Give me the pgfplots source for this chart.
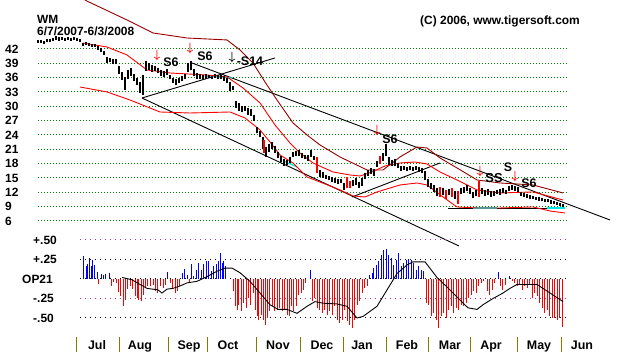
\documentclass[border=0pt]{standalone}
\usepackage{fontspec}
\setmainfont{Liberation Sans}
\usepackage{pgfplots}
\pgfplotsset{compat=1.18}
\usepackage{pgfplotstable}
\usepackage{amsmath}

\definecolor{gridgreen}{RGB}{0,128,0}
\definecolor{maroonline}{RGB}{150,0,0}
\definecolor{olivesep}{RGB}{128,128,0}
\definecolor{pinkgrid}{RGB}{170,60,140}
\definecolor{brightred}{RGB}{255,0,0}
\definecolor{barblue}{RGB}{0,0,255}
\definecolor{cyanline}{RGB}{0,230,230}

\newcommand\lab{\fontsize{12}{12}\selectfont\bfseries}
\newcommand\sig{\fontsize{12.5}{12}\selectfont\bfseries}
\newcommand\arr{\fontsize{13}{13}\selectfont$\boldsymbol{\downarrow}$}

% price bars: x (pixel column), low, high
\pgfplotstableread{
x lo hi
38 43.2 43.8
41 43.3 43.9
44 43.0 43.6
47 43.4 44.1
50 43.5 44.0
53 43.6 44.3
56 43.8 44.6
59 43.7 44.4
62 43.9 44.5
65 43.6 44.2
68 43.8 44.4
71 43.7 44.3
74 43.8 44.5
77 43.6 44.2
80 43.4 44.0
83 42.6 43.3
86 42.8 43.4
89 42.7 43.2
92 42.4 43.1
95 42.5 43.0
98 41.8 42.6
101 41.3 42.2
104 40.8 41.6
107 39.0 40.2
110 39.2 40.1
113 38.8 39.8
116 38.9 39.9
119 36.8 38.5
122 35.5 37.2
125 33.4 36.2
128 35.8 37.6
131 36.3 38.0
134 35.2 36.8
137 34.5 36.0
140 32.8 35.0
143 32.3 36.5
146 37.4 39.4
149 37.6 39.0
152 37.2 38.6
155 37.4 38.5
158 36.9 38.0
161 36.4 37.5
164 36.2 37.3
167 36.5 37.7
170 35.6 36.6
173 34.8 36.0
176 34.5 35.6
179 34.9 35.9
182 35.3 36.3
185 35.8 36.8
188 37.2 39.0
191 37.5 39.4
194 36.4 37.8
197 35.7 37.0
200 35.8 36.8
203 35.5 36.5
206 35.7 36.7
209 35.9 36.6
212 35.6 36.4
215 35.9 36.8
218 35.8 36.6
221 35.6 36.5
224 35.3 36.3
227 34.8 35.9
230 33.2 35.0
233 33.4 34.2
236 29.6 31.2
239 29.0 30.6
242 28.8 30.1
245 29.0 30.0
248 28.2 29.6
251 28.0 29.5
254 27.0 28.2
257 24.3 25.6
260 23.5 24.8
263 21.0 23.5
266 19.4 21.5
269 20.5 22.2
272 21.0 22.5
275 20.2 21.6
278 19.2 20.4
281 18.3 19.6
284 17.6 18.9
287 17.8 18.8
290 18.2 19.3
293 19.3 20.5
296 19.5 20.6
299 19.6 20.9
302 19.2 20.3
305 18.9 19.8
308 18.6 19.7
311 19.4 20.9
314 18.7 19.6
317 16.2 17.5
320 15.3 16.6
323 15.0 16.2
326 14.8 15.7
329 14.5 15.4
332 14.2 15.1
335 14.0 14.9
338 13.7 14.7
341 13.9 14.8
344 12.5 14.0
347 13.9 15.2
350 12.9 14.3
353 13.3 14.6
356 13.6 14.9
359 13.0 14.2
362 13.4 14.9
365 14.8 16.0
368 15.4 16.6
371 15.8 17.1
374 15.5 16.9
377 17.2 18.5
380 18.0 19.4
383 18.6 20.3
386 19.5 22.0
389 17.8 19.3
392 17.4 18.7
395 17.6 18.9
398 17.0 18.2
401 16.5 17.6
404 16.7 17.5
407 16.4 17.3
410 16.6 17.4
413 16.5 17.3
416 16.7 17.6
419 16.3 17.2
422 16.0 17.0
425 14.5 16.4
428 13.2 14.8
431 12.6 13.9
434 12.1 13.5
437 11.3 12.8
440 11.0 13.2
443 11.5 12.8
446 10.5 12.5
449 11.4 12.6
452 11.8 13.0
455 10.7 12.3
458 9.6 12.2
461 11.6 13.0
464 11.9 13.2
467 12.2 13.5
470 11.6 12.8
473 10.8 12.1
476 11.2 12.5
479 11.0 14.4
482 11.6 12.8
485 11.3 12.4
488 11.5 12.6
491 11.1 12.2
494 11.3 12.3
497 11.6 12.5
500 11.4 12.6
503 11.8 12.8
506 11.6 12.5
509 12.2 13.3
512 12.4 13.6
515 12.2 13.4
518 12.0 13.1
521 11.2 12.1
524 11.0 11.9
527 10.8 11.7
530 10.7 11.5
533 10.5 11.3
536 10.3 11.1
539 10.2 11.0
542 10.1 10.8
545 10.0 10.7
548 9.9 10.6
551 9.6 10.4
554 9.5 10.2
557 9.3 10.0
560 9.1 9.8
563 9.0 9.6
}\bars

\pgfplotstableread{
x lo hi
264 20.2 22.9
317 16.0 19.4
347 12.8 15.2
350 12.9 14.3
380 18.0 19.6
440 11.0 13.2
446 10.5 12.5
452 11.0 13.0
458 9.6 12.2
479 11.0 14.4
}\redbars

\pgfplotstableread{
x v
83 0.299
86 0.162
87 0.192
89 0.269
91 0.162
92 0.239
94 0.184
97 0.085
101 0.064
103 0.047
105 0.064
109 0.077
167 0.090
182 0.077
184 0.128
187 0.056
191 0.197
193 0.043
196 0.111
198 0.205
201 0.111
203 0.197
206 0.226
208 0.226
211 0.098
213 0.162
216 0.192
218 0.226
220 0.333
222 0.205
223 0.226
225 0.162
310 0.120
369 0.056
372 0.077
373 0.141
376 0.184
378 0.226
381 0.312
383 0.376
386 0.385
388 0.312
391 0.269
393 0.184
396 0.248
398 0.333
401 0.162
403 0.205
406 0.248
408 0.256
411 0.248
413 0.205
416 0.120
418 0.162
421 0.120
423 0.098
498 0.085
509 0.034
}\bluebars

\pgfplotstableread{
x v
98 -0.064
111 -0.085
113 -0.043
116 -0.051
118 -0.167
120 -0.222
123 -0.342
125 -0.265
127 -0.128
130 -0.085
132 -0.128
135 -0.214
137 -0.244
138 -0.265
141 -0.278
143 -0.201
145 -0.115
147 -0.094
150 -0.085
153 -0.073
155 -0.158
157 -0.179
160 -0.094
163 -0.115
165 -0.073
170 -0.051
172 -0.115
175 -0.179
177 -0.158
179 -0.094
189 -0.051
233 -0.158
235 -0.350
237 -0.393
238 -0.329
241 -0.415
243 -0.308
246 -0.372
248 -0.244
250 -0.329
253 -0.179
255 -0.393
257 -0.479
258 -0.521
261 -0.457
263 -0.521
265 -0.585
267 -0.500
269 -0.415
272 -0.350
274 -0.415
277 -0.393
279 -0.372
282 -0.415
284 -0.393
287 -0.457
289 -0.479
291 -0.350
293 -0.415
296 -0.350
298 -0.201
301 -0.179
303 -0.137
305 -0.051
312 -0.286
314 -0.244
317 -0.372
319 -0.393
322 -0.436
324 -0.393
327 -0.457
329 -0.415
332 -0.457
334 -0.350
337 -0.521
339 -0.564
342 -0.521
344 -0.393
347 -0.543
349 -0.585
352 -0.628
354 -0.521
357 -0.329
359 -0.286
362 -0.179
364 -0.115
367 -0.094
426 -0.308
428 -0.329
431 -0.479
433 -0.436
436 -0.521
438 -0.628
441 -0.479
443 -0.436
446 -0.500
448 -0.393
451 -0.350
453 -0.436
456 -0.372
458 -0.393
461 -0.329
463 -0.350
466 -0.308
468 -0.244
471 -0.201
473 -0.158
476 -0.179
478 -0.094
481 -0.051
483 -0.030
487 -0.158
489 -0.201
492 -0.137
494 -0.051
500 -0.094
502 -0.137
505 -0.073
512 -0.030
514 -0.051
517 -0.094
519 -0.073
522 -0.137
524 -0.094
527 -0.115
529 -0.073
532 -0.244
534 -0.179
537 -0.222
539 -0.308
542 -0.372
544 -0.436
547 -0.393
549 -0.479
552 -0.500
554 -0.500
557 -0.521
559 -0.500
562 -0.620
}\redhist

\begin{document}
\begin{tikzpicture}
%================ PRICE PANEL ================
\begin{axis}[at={(0,0)}, anchor=south west, scale only axis,
  width=618bp, height=352bp, xmin=0, xmax=618, ymin=-21.41, ymax=52.23,
  axis lines=none, xtick=\empty, ytick=\empty, clip=false]
% grid lines
\pgfplotsinvokeforeach{6,9,12,15,18,21,24,27,30,33,36,39,42}{
  \addplot[gridgreen, line width=1bp, dash pattern=on 1bp off 2bp] coordinates {(38,#1) (567,#1)};
  \node[anchor=west, inner sep=0pt] at (axis cs:5,#1) {\lab #1};
}
% trend lines
\addplot[black, line width=0.9bp] coordinates {(192,39.05) (610,6.21)};
\addplot[black, line width=0.9bp] coordinates {(142,31.73) (459,0.77)};
\addplot[black, line width=0.9bp] coordinates {(142,31.73) (275,40.10)};
\addplot[black, line width=0.9bp] coordinates {(352,11.02) (440,18.13)};
\addplot[black, line width=0.9bp] coordinates {(448,8.72) (565,8.72)};
\addplot[cyanline, line width=1.2bp] coordinates {(473,8.72) (497,8.72)};
\addplot[cyanline, line width=1.2bp] coordinates {(547,8.72) (565,8.72)};
\addplot[cyanline, line width=1.2bp] coordinates {(283,18.6) (297,17.3)};
\addplot[cyanline, line width=1.2bp] coordinates {(205,36.3) (232,35.9)};
% maroon outer band
\addplot[maroonline, line width=0.9bp] coordinates {
(85,52.2) (127,48.05) (153,45.33) (187,44.28) (227,43.87) (240,41.77) (253,39.05)
(265,35.08) (277,31.31) (293,26.50) (307,23.99) (320,21.90) (340,19.39) (367,16.67)
(383,16.67) (400,19.39) (417,21.48) (427,21.27) (440,19.18) (457,17.09) (477,14.58)
(500,13.95) (533,13.53) (563,11.86)};
% bright red upper band
\addplot[brightred, line width=0.9bp] coordinates {
(83,43.24) (107,42.40) (127,40.73) (147,37.59) (170,36.96) (207,36.54) (227,36.13)
(243,33.83) (260,30.69) (275,26.08) (290,22.32) (300,20.23) (313,18.13) (333,16.25)
(350,15.62) (360,15.41) (372,16.25) (385,17.51) (400,18.13) (415,18.34) (427,17.92)
(440,16.25) (457,14.58) (477,12.49) (500,11.86) (533,12.07) (563,10.39)};
% bright red lower band
\addplot[brightred, line width=0.9bp] coordinates {
(80,34.03) (107,32.99) (130,31.31) (160,28.80) (190,28.59) (230,28.80) (245,27.55)
(260,25.04) (270,22.53) (280,19.81) (293,18.13) (307,15.21) (320,14.16) (340,12.49)
(353,11.23) (365,11.02) (377,12.07) (400,13.53) (417,13.95) (427,13.53) (443,11.02)
(457,8.93) (477,8.72) (500,8.72) (533,8.93) (550,8.09) (565,7.67)};
% price bars
\addplot[draw=none, mark=none, forget plot,
  error bars/.cd, y dir=plus, y explicit, error mark=none,
  error bar style={draw=black, solid, line width=1.1bp}]
  table[x=x, y=lo, y error expr=\thisrow{hi}-\thisrow{lo}] {\bars};
\addplot[draw=none, mark=none, forget plot,
  error bars/.cd, y dir=plus, y explicit, error mark=none,
  error bar style={draw=brightred, solid, line width=1.1bp}]
  table[x=x, y=lo, y error expr=\thisrow{hi}-\thisrow{lo}] {\redbars};
% titles
\node[anchor=base west, inner sep=0pt] at (axis cs:37,47.25) {\fontsize{12}{12}\selectfont\bfseries WM};
\node[anchor=base west, inner sep=0pt] at (axis cs:37,44.75) {\lab 6/7/2007-6/3/2008};
\node[anchor=base west, inner sep=0pt] at (axis cs:420,47.0) {\fontsize{12}{12}\selectfont\bfseries (C) 2006, www.tigersoft.com};
% signals
\node[text=brightred, inner sep=0pt] at (axis cs:157,40.7) {\arr};
\node[inner sep=0pt] at (axis cs:171,39.26) {\sig S6};
\node[text=brightred, inner sep=0pt] at (axis cs:190,41.98) {\arr};
\node[inner sep=0pt] at (axis cs:205,40.52) {\sig S6};
\node[inner sep=0pt] at (axis cs:232,40.1) {\arr};
\node[inner sep=0pt] at (axis cs:250,39.47) {\sig -S14};
\node[text=brightred, inner sep=0pt] at (axis cs:377,24.83) {\arr};
\node[inner sep=0pt] at (axis cs:390,23.15) {\sig S6};
\node[text=brightred, inner sep=0pt] at (axis cs:480,16.25) {\arr};
\node[inner sep=0pt] at (axis cs:494,15.0) {\fontsize{13}{12}\selectfont\bfseries SS};
\node[inner sep=0pt] at (axis cs:508,17.3) {\sig S};
\node[text=brightred, inner sep=0pt] at (axis cs:515,15.4) {\arr};
\node[inner sep=0pt] at (axis cs:529,13.95) {\sig S6};
\end{axis}
%================ OP21 PANEL ================
\begin{axis}[at={(0,0)}, anchor=south west, scale only axis,
  width=618bp, height=352bp, xmin=0, xmax=618, ymin=-0.936, ymax=3.577,
  axis lines=none, xtick=\empty, ytick=\empty, clip=false]
\addplot[pinkgrid, line width=1bp, dash pattern=on 1bp off 4bp] coordinates {(80,0.5) (567,0.5)};
\addplot[black, line width=1bp, dash pattern=on 1bp off 4bp] coordinates {(80,0.25) (567,0.25)};
\addplot[black, line width=1bp, dash pattern=on 1bp off 4bp] coordinates {(80,0) (567,0)};
\addplot[pinkgrid, line width=1bp, dash pattern=on 1bp off 4bp] coordinates {(80,-0.25) (567,-0.25)};
\addplot[black, line width=1bp, dash pattern=on 1bp off 4bp] coordinates {(80,-0.5) (567,-0.5)};
\addplot[ycomb, barblue, line width=0.9bp, mark=none] table[x=x, y=v] {\bluebars};
\addplot[ycomb, brightred, line width=0.9bp, mark=none] table[x=x, y=v] {\redhist};
\addplot[black, line width=0.9bp] coordinates {
(122,0.02) (132,-0.01) (140,-0.07) (147,-0.12) (158,-0.14) (162,-0.18) (167,-0.13)
(173,-0.12) (180,-0.09) (187,-0.05) (197,-0.03) (207,0.03) (217,0.10) (225,0.14)
(232,0.14) (240,0.08) (250,-0.03) (260,-0.18) (270,-0.33) (278,-0.39) (287,-0.39)
(297,-0.44) (307,-0.35) (315,-0.29) (323,-0.31) (337,-0.32) (347,-0.35) (357,-0.50)
(363,-0.48) (377,-0.35) (387,-0.14) (397,0.07) (407,0.18) (413,0.22) (425,0.22)
(437,0.02) (450,-0.14) (460,-0.27) (468,-0.37) (477,-0.39) (483,-0.33) (493,-0.25)
(503,-0.18) (510,-0.12) (517,-0.07) (527,-0.07) (537,-0.07) (550,-0.18) (563,-0.29)};
\node[anchor=west, inner sep=0pt] at (axis cs:33,0.5) {\lab +.50};
\node[anchor=west, inner sep=0pt] at (axis cs:33,0.25) {\lab +.25};
\node[anchor=west, inner sep=0pt] at (axis cs:22,0) {\lab OP21};
\node[anchor=west, inner sep=0pt] at (axis cs:33,-0.25) {\lab -.25};
\node[anchor=west, inner sep=0pt] at (axis cs:33,-0.5) {\lab -.50};
\pgfplotsinvokeforeach{76,119,168,207,256,300,343,386,428,470,517,561}{
  \addplot[olivesep, line width=1bp] coordinates {(#1,-0.744) (#1,-0.95)};
}
\node[anchor=base, inner sep=0pt] at (axis cs:97,-0.91) {\fontsize{12.5}{12}\selectfont\bfseries Jul};
\node[anchor=base, inner sep=0pt] at (axis cs:140,-0.91) {\fontsize{12.5}{12}\selectfont\bfseries Aug};
\node[anchor=base, inner sep=0pt] at (axis cs:189,-0.91) {\fontsize{12.5}{12}\selectfont\bfseries Sep};
\node[anchor=base, inner sep=0pt] at (axis cs:228,-0.91) {\fontsize{12.5}{12}\selectfont\bfseries Oct};
\node[anchor=base, inner sep=0pt] at (axis cs:278,-0.91) {\fontsize{12.5}{12}\selectfont\bfseries Nov};
\node[anchor=base, inner sep=0pt] at (axis cs:322,-0.91) {\fontsize{12.5}{12}\selectfont\bfseries Dec};
\node[anchor=base, inner sep=0pt] at (axis cs:362,-0.91) {\fontsize{12.5}{12}\selectfont\bfseries Jan};
\node[anchor=base, inner sep=0pt] at (axis cs:407,-0.91) {\fontsize{12.5}{12}\selectfont\bfseries Feb};
\node[anchor=base, inner sep=0pt] at (axis cs:450,-0.91) {\fontsize{12.5}{12}\selectfont\bfseries Mar};
\node[anchor=base, inner sep=0pt] at (axis cs:491,-0.91) {\fontsize{12.5}{12}\selectfont\bfseries Apr};
\node[anchor=base, inner sep=0pt] at (axis cs:539,-0.91) {\fontsize{12.5}{12}\selectfont\bfseries May};
\node[anchor=base, inner sep=0pt] at (axis cs:582,-0.91) {\fontsize{12.5}{12}\selectfont\bfseries Jun};
\end{axis}
\pgfresetboundingbox
\path[use as bounding box] (0,0) rectangle (618bp,352bp);
\end{tikzpicture}
\end{document}
